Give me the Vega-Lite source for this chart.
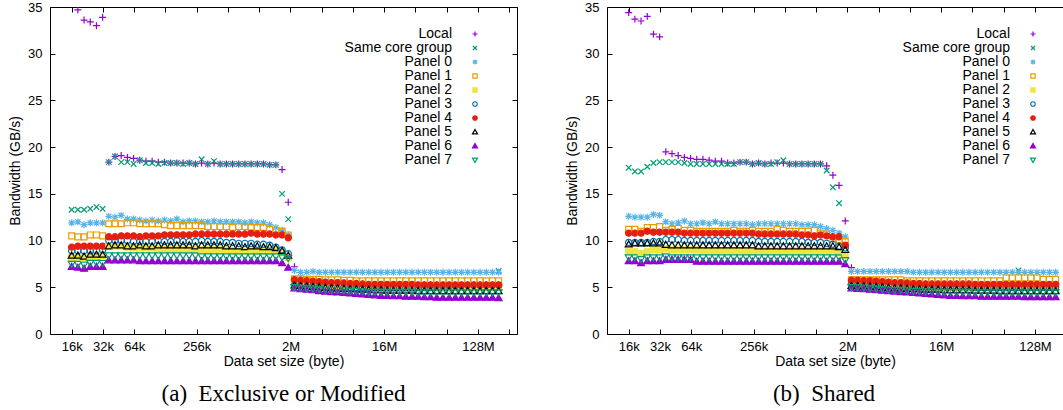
{
"$schema":"https://vega.github.io/schema/vega-lite/v6.json",
"background":"white",
"padding":{"left":8,"top":1,"right":0,"bottom":0},
"config":{
 "view":{"stroke":null},
 "font":"Liberation Sans",
 "axis":{"labelFont":"Liberation Sans","titleFont":"Liberation Sans","labelFontSize":13,"titleFontSize":14,"titleFontWeight":"normal","labelColor":"#000","titleColor":"#000","domainColor":"#000","tickColor":"#000","grid":false,"domainWidth":1,"tickWidth":1,"labelFlush":false,"labelOverlap":false},
 "legend":{"orient":"none","legendY":20,"title":null,"padding":0,"labelAlign":"right","labelOffset":-30,"labelFontSize":14,"labelFont":"Liberation Sans","labelColor":"#000","symbolSize":25,"symbolStrokeWidth":1.2,"rowPadding":-1.4},
 "title":{"font":"Liberation Serif","fontSize":23,"fontWeight":"normal","color":"#000"}
},
"data":{"values":[
{"p":"a","x":16384,"L":null,"S":13.3,"P0":11.9,"P1":10.5,"P2":8.2,"P3":8.9,"P4":9.3,"P5":8.4,"P6":7.2,"P7":7.5},
{"p":"a","x":18794,"L":34.7,"S":13.3,"P0":12.0,"P1":10.4,"P2":8.2,"P3":8.9,"P4":9.4,"P5":8.4,"P6":7.1,"P7":7.5},
{"p":"a","x":21559,"L":33.6,"S":13.3,"P0":11.7,"P1":10.4,"P2":8.1,"P3":8.9,"P4":9.4,"P5":8.3,"P6":7.0,"P7":7.4},
{"p":"a","x":24731,"L":33.4,"S":13.4,"P0":11.9,"P1":10.6,"P2":8.3,"P3":8.9,"P4":9.4,"P5":8.5,"P6":7.2,"P7":7.6},
{"p":"a","x":28368,"L":33.0,"S":13.6,"P0":11.9,"P1":10.6,"P2":8.3,"P3":8.9,"P4":9.4,"P5":8.5,"P6":7.2,"P7":7.6},
{"p":"a","x":32542,"L":33.9,"S":13.4,"P0":11.9,"P1":10.5,"P2":8.4,"P3":9.0,"P4":9.4,"P5":8.5,"P6":7.2,"P7":7.6},
{"p":"a","x":37329,"L":18.4,"S":18.4,"P0":12.6,"P1":11.8,"P2":9.4,"P3":10.0,"P4":10.4,"P5":9.4,"P6":7.9,"P7":8.4},
{"p":"a","x":42820,"L":19.0,"S":19.0,"P0":12.5,"P1":11.8,"P2":9.4,"P3":10.0,"P4":10.4,"P5":9.5,"P6":7.9,"P7":8.4},
{"p":"a","x":49119,"L":19.1,"S":18.4,"P0":12.7,"P1":11.8,"P2":9.4,"P3":10.0,"P4":10.5,"P5":9.5,"P6":7.9,"P7":8.4},
{"p":"a","x":56345,"L":18.9,"S":18.4,"P0":12.3,"P1":11.9,"P2":9.3,"P3":10.0,"P4":10.5,"P5":9.4,"P6":7.9,"P7":8.4},
{"p":"a","x":64634,"L":18.8,"S":18.2,"P0":12.3,"P1":11.9,"P2":9.2,"P3":9.9,"P4":10.5,"P5":9.4,"P6":7.9,"P7":8.4},
{"p":"a","x":74142,"L":18.6,"S":18.6,"P0":12.2,"P1":11.8,"P2":9.2,"P3":9.9,"P4":10.4,"P5":9.5,"P6":7.8,"P7":8.4},
{"p":"a","x":85049,"L":18.5,"S":18.3,"P0":12.1,"P1":11.8,"P2":9.2,"P3":9.9,"P4":10.5,"P5":9.4,"P6":7.8,"P7":8.4},
{"p":"a","x":97560,"L":18.5,"S":18.3,"P0":12.2,"P1":11.8,"P2":9.2,"P3":9.9,"P4":10.5,"P5":9.4,"P6":7.8,"P7":8.4},
{"p":"a","x":111912,"L":18.4,"S":18.2,"P0":12.1,"P1":11.8,"P2":9.1,"P3":10.0,"P4":10.5,"P5":9.5,"P6":7.8,"P7":8.4},
{"p":"a","x":128374,"L":18.4,"S":18.3,"P0":12.2,"P1":11.7,"P2":9.1,"P3":9.9,"P4":10.6,"P5":9.5,"P6":7.8,"P7":8.4},
{"p":"a","x":147259,"L":18.3,"S":18.3,"P0":12.1,"P1":11.6,"P2":9.1,"P3":9.9,"P4":10.6,"P5":9.5,"P6":7.8,"P7":8.4},
{"p":"a","x":168923,"L":18.3,"S":18.3,"P0":12.3,"P1":11.6,"P2":9.1,"P3":10.0,"P4":10.6,"P5":9.5,"P6":7.8,"P7":8.4},
{"p":"a","x":193771,"L":18.3,"S":18.2,"P0":12.0,"P1":11.6,"P2":9.0,"P3":9.9,"P4":10.6,"P5":9.5,"P6":7.8,"P7":8.4},
{"p":"a","x":222275,"L":18.3,"S":18.3,"P0":12.1,"P1":11.6,"P2":9.0,"P3":9.9,"P4":10.6,"P5":9.5,"P6":7.8,"P7":8.4},
{"p":"a","x":254976,"L":18.2,"S":18.2,"P0":12.1,"P1":11.6,"P2":9.0,"P3":9.9,"P4":10.7,"P5":9.4,"P6":7.8,"P7":8.4},
{"p":"a","x":292485,"L":18.3,"S":18.7,"P0":12.0,"P1":11.6,"P2":9.0,"P3":10.0,"P4":10.7,"P5":9.5,"P6":7.8,"P7":8.3},
{"p":"a","x":335510,"L":18.2,"S":18.2,"P0":12.0,"P1":11.5,"P2":9.0,"P3":9.9,"P4":10.7,"P5":9.5,"P6":7.8,"P7":8.3},
{"p":"a","x":384872,"L":18.3,"S":18.5,"P0":12.1,"P1":11.5,"P2":9.0,"P3":9.9,"P4":10.7,"P5":9.5,"P6":7.8,"P7":8.3},
{"p":"a","x":441484,"L":18.2,"S":18.2,"P0":12.0,"P1":11.5,"P2":9.0,"P3":9.9,"P4":10.7,"P5":9.5,"P6":7.8,"P7":8.3},
{"p":"a","x":506428,"L":18.2,"S":18.2,"P0":12.0,"P1":11.5,"P2":9.0,"P3":9.8,"P4":10.7,"P5":9.4,"P6":7.8,"P7":8.3},
{"p":"a","x":580932,"L":18.2,"S":18.2,"P0":12.0,"P1":11.4,"P2":8.9,"P3":9.8,"P4":10.7,"P5":9.4,"P6":7.8,"P7":8.3},
{"p":"a","x":666385,"L":18.2,"S":18.2,"P0":12.0,"P1":11.5,"P2":8.9,"P3":9.7,"P4":10.7,"P5":9.4,"P6":7.8,"P7":8.3},
{"p":"a","x":764424,"L":18.2,"S":18.2,"P0":11.9,"P1":11.5,"P2":8.9,"P3":9.7,"P4":10.7,"P5":9.3,"P6":7.8,"P7":8.3},
{"p":"a","x":876872,"L":18.2,"S":18.2,"P0":12.0,"P1":11.4,"P2":8.9,"P3":9.7,"P4":10.8,"P5":9.4,"P6":7.8,"P7":8.3},
{"p":"a","x":1005867,"L":18.2,"S":18.2,"P0":11.9,"P1":11.4,"P2":8.9,"P3":9.6,"P4":10.7,"P5":9.4,"P6":7.8,"P7":8.3},
{"p":"a","x":1153845,"L":18.2,"S":18.2,"P0":11.9,"P1":11.4,"P2":8.9,"P3":9.6,"P4":10.7,"P5":9.3,"P6":7.8,"P7":8.3},
{"p":"a","x":1323576,"L":18.1,"S":18.1,"P0":11.7,"P1":11.2,"P2":8.9,"P3":9.5,"P4":10.7,"P5":9.3,"P6":7.8,"P7":8.3},
{"p":"a","x":1518275,"L":18.1,"S":18.1,"P0":11.4,"P1":11.1,"P2":8.9,"P3":9.3,"P4":10.6,"P5":9.2,"P6":7.8,"P7":8.3},
{"p":"a","x":1741622,"L":17.6,"S":15.0,"P0":11.1,"P1":11.0,"P2":8.7,"P3":9.0,"P4":10.6,"P5":8.9,"P6":7.6,"P7":8.2},
{"p":"a","x":1997828,"L":14.1,"S":12.3,"P0":10.6,"P1":10.6,"P2":8.2,"P3":8.6,"P4":10.3,"P5":8.4,"P6":7.1,"P7":8.1},
{"p":"a","x":2291724,"L":7.2,"S":5.1,"P0":6.8,"P1":5.9,"P2":5.1,"P3":5.2,"P4":5.8,"P5":5.2,"P6":4.9,"P7":5.0},
{"p":"a","x":2628843,"L":5.75,"S":5.05,"P0":6.6,"P1":5.9,"P2":5.05,"P3":5.15,"P4":5.75,"P5":5.15,"P6":4.8,"P7":4.95},
{"p":"a","x":3015591,"L":5.7,"S":5.05,"P0":6.6,"P1":5.85,"P2":5.05,"P3":5.1,"P4":5.7,"P5":5.1,"P6":4.75,"P7":4.9},
{"p":"a","x":3459181,"L":5.65,"S":5.0,"P0":6.7,"P1":5.85,"P2":5.0,"P3":5.1,"P4":5.65,"P5":5.05,"P6":4.7,"P7":4.85},
{"p":"a","x":3968082,"L":5.6,"S":5.0,"P0":6.6,"P1":5.85,"P2":5.0,"P3":5.05,"P4":5.6,"P5":5.0,"P6":4.6,"P7":4.8},
{"p":"a","x":4551830,"L":5.55,"S":5.0,"P0":6.6,"P1":5.8,"P2":5.0,"P3":5.05,"P4":5.55,"P5":4.95,"P6":4.55,"P7":4.75},
{"p":"a","x":5221406,"L":5.5,"S":4.95,"P0":6.6,"P1":5.8,"P2":4.95,"P3":5.0,"P4":5.5,"P5":4.9,"P6":4.5,"P7":4.7},
{"p":"a","x":5989466,"L":5.5,"S":4.95,"P0":6.6,"P1":5.8,"P2":4.95,"P3":5.0,"P4":5.5,"P5":4.9,"P6":4.45,"P7":4.7},
{"p":"a","x":6870632,"L":5.45,"S":4.95,"P0":6.6,"P1":5.75,"P2":4.95,"P3":5.0,"P4":5.45,"P5":4.85,"P6":4.4,"P7":4.65},
{"p":"a","x":7881271,"L":5.4,"S":4.95,"P0":6.6,"P1":5.75,"P2":4.95,"P3":4.95,"P4":5.4,"P5":4.8,"P6":4.35,"P7":4.6},
{"p":"a","x":9040654,"L":5.4,"S":4.9,"P0":6.6,"P1":5.7,"P2":4.9,"P3":4.95,"P4":5.4,"P5":4.8,"P6":4.3,"P7":4.6},
{"p":"a","x":10370689,"L":5.35,"S":4.9,"P0":6.6,"P1":5.7,"P2":4.9,"P3":4.95,"P4":5.35,"P5":4.75,"P6":4.25,"P7":4.55},
{"p":"a","x":11896380,"L":5.3,"S":4.9,"P0":6.6,"P1":5.7,"P2":4.9,"P3":4.95,"P4":5.3,"P5":4.75,"P6":4.2,"P7":4.5},
{"p":"a","x":13646253,"L":5.3,"S":4.9,"P0":6.6,"P1":5.7,"P2":4.9,"P3":4.95,"P4":5.3,"P5":4.7,"P6":4.15,"P7":4.5},
{"p":"a","x":15653734,"L":5.3,"S":4.9,"P0":6.6,"P1":5.7,"P2":4.9,"P3":4.95,"P4":5.3,"P5":4.7,"P6":4.1,"P7":4.5},
{"p":"a","x":17956324,"L":5.3,"S":4.9,"P0":6.6,"P1":5.7,"P2":4.9,"P3":4.95,"P4":5.3,"P5":4.65,"P6":4.1,"P7":4.5},
{"p":"a","x":20597820,"L":5.3,"S":4.9,"P0":6.6,"P1":5.7,"P2":4.9,"P3":4.95,"P4":5.3,"P5":4.65,"P6":4.05,"P7":4.5},
{"p":"a","x":23628071,"L":5.3,"S":4.9,"P0":6.6,"P1":5.7,"P2":4.9,"P3":4.95,"P4":5.3,"P5":4.65,"P6":4.05,"P7":4.5},
{"p":"a","x":27104038,"L":5.3,"S":4.9,"P0":6.6,"P1":5.7,"P2":4.9,"P3":4.95,"P4":5.3,"P5":4.65,"P6":4.0,"P7":4.5},
{"p":"a","x":31091199,"L":5.3,"S":4.9,"P0":6.6,"P1":5.7,"P2":4.9,"P3":4.95,"P4":5.3,"P5":4.65,"P6":4.0,"P7":4.5},
{"p":"a","x":35665006,"L":5.25,"S":4.9,"P0":6.6,"P1":5.7,"P2":4.9,"P3":5.0,"P4":5.25,"P5":4.6,"P6":4.0,"P7":4.45},
{"p":"a","x":40911191,"L":5.25,"S":4.9,"P0":6.6,"P1":5.7,"P2":4.9,"P3":5.0,"P4":5.25,"P5":4.6,"P6":3.95,"P7":4.45},
{"p":"a","x":46929339,"L":5.25,"S":4.9,"P0":6.6,"P1":5.7,"P2":4.9,"P3":5.0,"P4":5.25,"P5":4.6,"P6":3.95,"P7":4.45},
{"p":"a","x":53833167,"L":5.25,"S":4.9,"P0":6.6,"P1":5.7,"P2":4.9,"P3":5.05,"P4":5.25,"P5":4.6,"P6":3.9,"P7":4.45},
{"p":"a","x":61752588,"L":5.25,"S":4.9,"P0":6.6,"P1":5.7,"P2":4.9,"P3":5.1,"P4":5.25,"P5":4.6,"P6":3.9,"P7":4.45},
{"p":"a","x":70836760,"L":5.25,"S":4.9,"P0":6.6,"P1":5.7,"P2":4.9,"P3":5.1,"P4":5.25,"P5":4.6,"P6":3.9,"P7":4.45},
{"p":"a","x":81257426,"L":5.25,"S":4.95,"P0":6.6,"P1":5.7,"P2":4.95,"P3":5.15,"P4":5.25,"P5":4.6,"P6":3.9,"P7":4.45},
{"p":"a","x":93210857,"L":5.25,"S":4.95,"P0":6.6,"P1":5.7,"P2":4.95,"P3":5.15,"P4":5.25,"P5":4.6,"P6":3.9,"P7":4.45},
{"p":"a","x":106923210,"L":5.25,"S":4.95,"P0":6.6,"P1":5.7,"P2":4.95,"P3":5.2,"P4":5.25,"P5":4.6,"P6":3.9,"P7":4.45},
{"p":"a","x":122652857,"L":5.25,"S":4.95,"P0":6.6,"P1":5.7,"P2":4.95,"P3":5.2,"P4":5.25,"P5":4.6,"P6":3.9,"P7":4.45},
{"p":"a","x":140695076,"L":5.25,"S":4.95,"P0":6.6,"P1":5.7,"P2":4.95,"P3":5.2,"P4":5.25,"P5":4.6,"P6":3.9,"P7":4.45},
{"p":"a","x":161392792,"L":5.25,"S":4.95,"P0":6.6,"P1":5.7,"P2":4.95,"P3":5.2,"P4":5.25,"P5":4.6,"P6":3.9,"P7":4.45},
{"p":"a","x":185133223,"L":5.25,"S":4.95,"P0":6.6,"P1":5.7,"P2":4.95,"P3":5.2,"P4":5.25,"P5":4.6,"P6":3.9,"P7":4.45},
{"p":"a","x":212367343,"L":5.25,"S":6.75,"P0":6.6,"P1":5.7,"P2":4.95,"P3":5.2,"P4":5.25,"P5":4.6,"P6":3.85,"P7":4.45},
{"p":"b","x":16384,"L":34.4,"S":17.8,"P0":12.6,"P1":11.2,"P2":8.8,"P3":9.8,"P4":10.8,"P5":9.6,"P6":7.8,"P7":8.2},
{"p":"b","x":18794,"L":33.7,"S":17.4,"P0":12.5,"P1":11.2,"P2":8.8,"P3":9.8,"P4":10.8,"P5":9.7,"P6":7.8,"P7":8.2},
{"p":"b","x":21559,"L":33.5,"S":17.4,"P0":12.5,"P1":11.0,"P2":8.6,"P3":9.8,"P4":10.8,"P5":9.7,"P6":7.6,"P7":8.0},
{"p":"b","x":24731,"L":34.0,"S":17.9,"P0":12.5,"P1":11.4,"P2":8.8,"P3":9.8,"P4":11.0,"P5":9.7,"P6":7.8,"P7":8.2},
{"p":"b","x":28368,"L":32.1,"S":18.3,"P0":12.8,"P1":11.4,"P2":9.0,"P3":9.9,"P4":10.9,"P5":9.7,"P6":7.8,"P7":8.2},
{"p":"b","x":32542,"L":31.8,"S":18.4,"P0":12.7,"P1":11.5,"P2":9.0,"P3":9.9,"P4":10.9,"P5":9.7,"P6":7.8,"P7":8.2},
{"p":"b","x":37329,"L":19.5,"S":18.4,"P0":12.0,"P1":11.1,"P2":9.1,"P3":10.1,"P4":10.9,"P5":9.55,"P6":7.95,"P7":8.3},
{"p":"b","x":42820,"L":19.3,"S":18.4,"P0":11.8,"P1":11.2,"P2":9.0,"P3":10.1,"P4":10.9,"P5":9.5,"P6":7.95,"P7":8.2},
{"p":"b","x":49119,"L":19.1,"S":18.4,"P0":11.9,"P1":11.3,"P2":9.0,"P3":10.1,"P4":10.9,"P5":9.5,"P6":7.95,"P7":8.2},
{"p":"b","x":56345,"L":18.9,"S":18.3,"P0":12.1,"P1":11.1,"P2":9.0,"P3":10.0,"P4":10.8,"P5":9.5,"P6":7.95,"P7":8.2},
{"p":"b","x":64634,"L":18.8,"S":18.2,"P0":11.8,"P1":11.1,"P2":9.0,"P3":10.0,"P4":10.8,"P5":9.5,"P6":7.95,"P7":8.2},
{"p":"b","x":74142,"L":18.7,"S":18.2,"P0":11.8,"P1":11.0,"P2":9.0,"P3":10.0,"P4":10.8,"P5":9.5,"P6":7.75,"P7":8.2},
{"p":"b","x":85049,"L":18.7,"S":18.2,"P0":11.9,"P1":11.0,"P2":8.9,"P3":10.0,"P4":10.8,"P5":9.5,"P6":7.75,"P7":8.2},
{"p":"b","x":97560,"L":18.6,"S":18.2,"P0":11.8,"P1":11.0,"P2":8.9,"P3":10.0,"P4":10.8,"P5":9.5,"P6":7.75,"P7":8.2},
{"p":"b","x":111912,"L":18.5,"S":18.2,"P0":12.0,"P1":11.0,"P2":8.9,"P3":10.0,"P4":10.8,"P5":9.5,"P6":7.75,"P7":8.2},
{"p":"b","x":128374,"L":18.5,"S":18.2,"P0":11.8,"P1":11.0,"P2":8.9,"P3":10.0,"P4":10.8,"P5":9.5,"P6":7.75,"P7":8.2},
{"p":"b","x":147259,"L":18.3,"S":18.2,"P0":11.8,"P1":11.0,"P2":8.9,"P3":10.0,"P4":10.8,"P5":9.5,"P6":7.75,"P7":8.2},
{"p":"b","x":168923,"L":18.3,"S":18.2,"P0":11.8,"P1":11.1,"P2":8.9,"P3":10.0,"P4":10.8,"P5":9.5,"P6":7.75,"P7":8.2},
{"p":"b","x":193771,"L":18.4,"S":18.4,"P0":11.8,"P1":11.0,"P2":8.9,"P3":10.0,"P4":10.8,"P5":9.5,"P6":7.75,"P7":8.2},
{"p":"b","x":222275,"L":18.4,"S":18.4,"P0":11.8,"P1":11.0,"P2":8.8,"P3":10.0,"P4":10.8,"P5":9.5,"P6":7.75,"P7":8.2},
{"p":"b","x":254976,"L":18.2,"S":18.2,"P0":11.7,"P1":11.1,"P2":8.9,"P3":10.0,"P4":10.8,"P5":9.5,"P6":7.75,"P7":8.2},
{"p":"b","x":292485,"L":18.3,"S":18.3,"P0":11.8,"P1":11.0,"P2":8.9,"P3":9.9,"P4":10.7,"P5":9.4,"P6":7.75,"P7":8.2},
{"p":"b","x":335510,"L":18.2,"S":18.2,"P0":11.8,"P1":11.0,"P2":8.9,"P3":9.9,"P4":10.7,"P5":9.4,"P6":7.75,"P7":8.2},
{"p":"b","x":384872,"L":18.3,"S":18.2,"P0":11.8,"P1":11.0,"P2":8.9,"P3":9.9,"P4":10.7,"P5":9.4,"P6":7.75,"P7":8.2},
{"p":"b","x":441484,"L":18.3,"S":18.4,"P0":11.8,"P1":11.2,"P2":8.9,"P3":9.9,"P4":10.7,"P5":9.4,"P6":7.75,"P7":8.2},
{"p":"b","x":506428,"L":18.3,"S":18.6,"P0":11.8,"P1":11.1,"P2":8.8,"P3":9.9,"P4":10.7,"P5":9.4,"P6":7.75,"P7":8.2},
{"p":"b","x":580932,"L":18.2,"S":18.2,"P0":11.8,"P1":11.0,"P2":8.9,"P3":9.9,"P4":10.7,"P5":9.4,"P6":7.75,"P7":8.2},
{"p":"b","x":666385,"L":18.2,"S":18.2,"P0":11.8,"P1":11.0,"P2":8.9,"P3":9.9,"P4":10.7,"P5":9.4,"P6":7.75,"P7":8.2},
{"p":"b","x":764424,"L":18.2,"S":18.2,"P0":11.7,"P1":11.0,"P2":8.9,"P3":9.9,"P4":10.6,"P5":9.4,"P6":7.75,"P7":8.2},
{"p":"b","x":876872,"L":18.2,"S":18.2,"P0":11.7,"P1":11.0,"P2":8.9,"P3":9.8,"P4":10.6,"P5":9.4,"P6":7.75,"P7":8.2},
{"p":"b","x":1005867,"L":18.2,"S":18.2,"P0":11.7,"P1":11.1,"P2":8.9,"P3":9.8,"P4":10.5,"P5":9.4,"P6":7.75,"P7":8.2},
{"p":"b","x":1153845,"L":18.2,"S":18.2,"P0":11.5,"P1":10.8,"P2":8.9,"P3":9.8,"P4":10.6,"P5":9.4,"P6":7.75,"P7":8.2},
{"p":"b","x":1323576,"L":18.0,"S":17.5,"P0":11.3,"P1":10.7,"P2":8.9,"P3":9.7,"P4":10.5,"P5":9.4,"P6":7.75,"P7":8.2},
{"p":"b","x":1518275,"L":17.0,"S":15.7,"P0":11.1,"P1":10.2,"P2":8.9,"P3":9.6,"P4":10.4,"P5":9.4,"P6":7.75,"P7":8.2},
{"p":"b","x":1741622,"L":15.9,"S":14.0,"P0":10.8,"P1":10.1,"P2":8.7,"P3":9.4,"P4":10.4,"P5":9.3,"P6":7.75,"P7":8.2},
{"p":"b","x":1997828,"L":12.1,"S":9.5,"P0":10.4,"P1":9.9,"P2":8.4,"P3":9.2,"P4":9.5,"P5":9.0,"P6":7.5,"P7":7.9},
{"p":"b","x":2291724,"L":7.1,"S":5.1,"P0":6.7,"P1":5.8,"P2":5.1,"P3":5.3,"P4":5.75,"P5":5.15,"P6":4.9,"P7":5.0},
{"p":"b","x":2628843,"L":5.75,"S":5.1,"P0":6.7,"P1":5.8,"P2":5.1,"P3":5.3,"P4":5.75,"P5":5.15,"P6":4.85,"P7":5.0},
{"p":"b","x":3015591,"L":5.7,"S":5.05,"P0":6.7,"P1":5.8,"P2":5.05,"P3":5.25,"P4":5.7,"P5":5.1,"P6":4.8,"P7":4.95},
{"p":"b","x":3459181,"L":5.7,"S":5.05,"P0":6.7,"P1":5.8,"P2":5.05,"P3":5.25,"P4":5.7,"P5":5.1,"P6":4.75,"P7":4.9},
{"p":"b","x":3968082,"L":5.65,"S":5.0,"P0":6.7,"P1":5.8,"P2":5.0,"P3":5.2,"P4":5.65,"P5":5.05,"P6":4.7,"P7":4.85},
{"p":"b","x":4551830,"L":5.6,"S":5.0,"P0":6.7,"P1":5.8,"P2":5.0,"P3":5.2,"P4":5.6,"P5":5.0,"P6":4.65,"P7":4.8},
{"p":"b","x":5221406,"L":5.55,"S":5.0,"P0":6.7,"P1":5.8,"P2":5.0,"P3":5.15,"P4":5.55,"P5":4.95,"P6":4.6,"P7":4.75},
{"p":"b","x":5989466,"L":5.5,"S":4.95,"P0":6.7,"P1":5.8,"P2":4.95,"P3":5.15,"P4":5.5,"P5":4.9,"P6":4.55,"P7":4.7},
{"p":"b","x":6870632,"L":5.5,"S":4.95,"P0":6.7,"P1":5.8,"P2":4.95,"P3":5.1,"P4":5.5,"P5":4.9,"P6":4.5,"P7":4.7},
{"p":"b","x":7881271,"L":5.45,"S":4.95,"P0":6.7,"P1":5.7,"P2":4.95,"P3":5.1,"P4":5.45,"P5":4.85,"P6":4.45,"P7":4.65},
{"p":"b","x":9040654,"L":5.4,"S":4.95,"P0":6.6,"P1":5.7,"P2":4.95,"P3":5.1,"P4":5.4,"P5":4.8,"P6":4.4,"P7":4.6},
{"p":"b","x":10370689,"L":5.4,"S":4.9,"P0":6.6,"P1":5.7,"P2":4.9,"P3":5.05,"P4":5.4,"P5":4.8,"P6":4.35,"P7":4.6},
{"p":"b","x":11896380,"L":5.35,"S":4.9,"P0":6.6,"P1":5.7,"P2":4.9,"P3":5.05,"P4":5.35,"P5":4.75,"P6":4.3,"P7":4.55},
{"p":"b","x":13646253,"L":5.35,"S":4.9,"P0":6.6,"P1":5.7,"P2":4.9,"P3":5.05,"P4":5.35,"P5":4.75,"P6":4.25,"P7":4.55},
{"p":"b","x":15653734,"L":5.35,"S":4.9,"P0":6.6,"P1":5.7,"P2":4.9,"P3":5.05,"P4":5.35,"P5":4.75,"P6":4.2,"P7":4.5},
{"p":"b","x":17956324,"L":5.35,"S":4.9,"P0":6.6,"P1":5.7,"P2":4.9,"P3":5.05,"P4":5.35,"P5":4.7,"P6":4.15,"P7":4.5},
{"p":"b","x":20597820,"L":5.35,"S":4.9,"P0":6.6,"P1":5.7,"P2":4.9,"P3":5.05,"P4":5.35,"P5":4.7,"P6":4.1,"P7":4.5},
{"p":"b","x":23628071,"L":5.35,"S":4.9,"P0":6.6,"P1":5.7,"P2":4.9,"P3":5.05,"P4":5.35,"P5":4.7,"P6":4.1,"P7":4.5},
{"p":"b","x":27104038,"L":5.35,"S":4.9,"P0":6.6,"P1":5.7,"P2":4.9,"P3":5.05,"P4":5.35,"P5":4.7,"P6":4.05,"P7":4.5},
{"p":"b","x":31091199,"L":5.35,"S":4.9,"P0":6.6,"P1":5.7,"P2":4.9,"P3":5.05,"P4":5.35,"P5":4.7,"P6":4.05,"P7":4.5},
{"p":"b","x":35665006,"L":5.3,"S":4.9,"P0":6.6,"P1":5.7,"P2":4.9,"P3":5.0,"P4":5.3,"P5":4.65,"P6":4.05,"P7":4.45},
{"p":"b","x":40911191,"L":5.3,"S":4.9,"P0":6.6,"P1":5.7,"P2":4.9,"P3":5.0,"P4":5.3,"P5":4.65,"P6":4.0,"P7":4.45},
{"p":"b","x":46929339,"L":5.3,"S":4.9,"P0":6.6,"P1":5.7,"P2":4.9,"P3":5.0,"P4":5.3,"P5":4.65,"P6":4.0,"P7":4.45},
{"p":"b","x":53833167,"L":5.3,"S":4.9,"P0":6.6,"P1":5.7,"P2":4.9,"P3":5.0,"P4":5.3,"P5":4.65,"P6":4.0,"P7":4.45},
{"p":"b","x":61752588,"L":5.3,"S":4.9,"P0":6.6,"P1":5.7,"P2":4.9,"P3":5.0,"P4":5.3,"P5":4.6,"P6":4.0,"P7":4.45},
{"p":"b","x":70836760,"L":5.3,"S":4.9,"P0":6.6,"P1":6.0,"P2":4.9,"P3":5.0,"P4":5.3,"P5":4.6,"P6":4.0,"P7":4.45},
{"p":"b","x":81257426,"L":5.3,"S":4.9,"P0":6.6,"P1":6.0,"P2":4.9,"P3":5.0,"P4":5.3,"P5":4.6,"P6":4.0,"P7":4.45},
{"p":"b","x":93210857,"L":5.3,"S":6.8,"P0":6.6,"P1":6.0,"P2":4.9,"P3":5.0,"P4":5.3,"P5":4.6,"P6":4.0,"P7":4.45},
{"p":"b","x":106923210,"L":5.3,"S":4.9,"P0":6.6,"P1":6.0,"P2":4.9,"P3":5.0,"P4":5.3,"P5":4.6,"P6":3.95,"P7":4.45},
{"p":"b","x":122652857,"L":5.3,"S":4.95,"P0":6.6,"P1":6.0,"P2":4.95,"P3":5.0,"P4":5.3,"P5":4.6,"P6":3.95,"P7":4.45},
{"p":"b","x":140695076,"L":5.3,"S":4.95,"P0":6.6,"P1":6.0,"P2":4.95,"P3":5.0,"P4":5.3,"P5":4.6,"P6":3.95,"P7":4.45},
{"p":"b","x":161392792,"L":5.3,"S":4.95,"P0":6.6,"P1":5.85,"P2":4.95,"P3":5.0,"P4":5.3,"P5":4.6,"P6":3.95,"P7":4.45},
{"p":"b","x":185133223,"L":5.3,"S":4.95,"P0":6.6,"P1":5.85,"P2":4.95,"P3":5.0,"P4":5.3,"P5":4.6,"P6":3.95,"P7":4.45},
{"p":"b","x":212367343,"L":5.3,"S":4.95,"P0":6.6,"P1":5.85,"P2":4.95,"P3":5.0,"P4":5.3,"P5":4.6,"P6":3.95,"P7":4.45}
]},
"transform":[{"fold":["L","S","P0","P1","P2","P3","P4","P5","P6","P7"],"as":["series","bw"]}],
"spacing":47,
"resolve":{"scale":{"stroke":"independent","fill":"independent","shape":"independent"},"legend":{"stroke":"independent","fill":"independent","shape":"independent"}},
"hconcat":[
{
 "width":467,"height":327,
 "title":{"text":"(a)\u00a0 Exclusive or Modified","orient":"bottom","anchor":"middle","offset":15},
 "transform":[{"filter":"datum.p == 'a'"}],
 "layer":[
  {"mark":{"type":"point","size":48,"strokeWidth":1.2,"opacity":1,"clip":true},
   "encoding":{
    "x":{"field":"x","type":"quantitative","scale":{"type":"log","base":2,"domain":[10128,319225000],"nice":false},
     "axis":{"orient":"bottom","title":"Data set size (byte)","values":[16384,32768,65536,131072,262144,524288,1048576,2097152,4194304,8388608,16777216,33554432,67108864,134217728,268435456],
      "labelExpr":"datum.value == 16384 ? '16k' : datum.value == 32768 ? '32k' : datum.value == 65536 ? '64k' : datum.value == 262144 ? '256k' : datum.value == 2097152 ? '2M' : datum.value == 16777216 ? '16M' : datum.value == 134217728 ? '128M' : ''",
      "tickSize":-5,"labelPadding":11,"minExtent":18,"maxExtent":18,"titlePadding":2}},
    "y":{"field":"bw","type":"quantitative","scale":{"domain":[0,35],"nice":false},
     "axis":{"orient":"left","title":"Bandwidth (GB/s)","values":[0,5,10,15,20,25,30,35],"tickSize":-5,"labelPadding":13,"minExtent":22,"maxExtent":22,"titlePadding":6}},
    "stroke":{"field":"series","type":"nominal","scale":{"domain":["L","S","P0","P1","P2","P3","P4","P5","P6","P7"],"range":["#9400d3","#009e73","#56b4e9","#e69f00","#f0e442","#0072b2","#e51e10","#000000","#9400d3","#009e73"]},
     "legend":{"legendX":418,"labelExpr":"datum.label == 'L' ? 'Local' : datum.label == 'S' ? 'Same core group' : 'Panel ' + substring(datum.label, 1)"}},
    "fill":{"field":"series","type":"nominal","scale":{"domain":["L","S","P0","P1","P2","P3","P4","P5","P6","P7"],"range":["transparent","transparent","transparent","transparent","#f0e442","transparent","#e51e10","transparent","#9400d3","transparent"]},
     "legend":{"legendX":418,"labelExpr":"datum.label == 'L' ? 'Local' : datum.label == 'S' ? 'Same core group' : 'Panel ' + substring(datum.label, 1)"}},
    "shape":{"field":"series","type":"nominal","scale":{"domain":["L","S","P0","P1","P2","P3","P4","P5","P6","P7"],"range":["M-1,0L1,0M0,-1L0,1","M-0.8,-0.8L0.8,0.8M-0.8,0.8L0.8,-0.8","M-1,0L1,0M0,-1L0,1M-0.75,-0.75L0.75,0.75M-0.75,0.75L0.75,-0.75","M-0.85,-0.85L0.85,-0.85L0.85,0.85L-0.85,0.85Z","M-0.85,-0.85L0.85,-0.85L0.85,0.85L-0.85,0.85Z","M0.9,0A0.9,0.9,0,1,1,-0.9,0A0.9,0.9,0,1,1,0.9,0Z","M0.9,0A0.9,0.9,0,1,1,-0.9,0A0.9,0.9,0,1,1,0.9,0Z","M0,-1L1,0.75L-1,0.75Z","M0,-1L1,0.75L-1,0.75Z","M0,1L1,-0.75L-1,-0.75Z"]},
     "legend":{"legendX":418,"labelExpr":"datum.label == 'L' ? 'Local' : datum.label == 'S' ? 'Same core group' : 'Panel ' + substring(datum.label, 1)"}}
   }},
  {"mark":{"type":"point","opacity":0},
   "encoding":{
    "x":{"field":"x","type":"quantitative","axis":{"orient":"top","title":null,"labels":false,"values":[16384,32768,65536,131072,262144,524288,1048576,2097152,4194304,8388608,16777216,33554432,67108864,134217728,268435456],"tickSize":-5,"minExtent":0,"maxExtent":0}},
    "y":{"field":"bw","type":"quantitative","axis":{"orient":"right","title":null,"labels":false,"values":[0,5,10,15,20,25,30,35],"tickSize":-5,"minExtent":0,"maxExtent":0}}
   }}
 ],
 "resolve":{"axis":{"x":"independent","y":"independent"}}
},
{
 "width":456,"height":327,
 "title":{"text":"(b)\u00a0 Shared","orient":"bottom","anchor":"middle","offset":15,"dx":-11},
 "transform":[{"filter":"datum.p == 'b'"}],
 "layer":[
  {"mark":{"type":"point","size":48,"strokeWidth":1.2,"opacity":1,"clip":true},
   "encoding":{
    "x":{"field":"x","type":"quantitative","scale":{"type":"log","base":2,"domain":[10128,250100000],"nice":false},
     "axis":{"orient":"bottom","title":"Data set size (byte)","values":[16384,32768,65536,131072,262144,524288,1048576,2097152,4194304,8388608,16777216,33554432,67108864,134217728],
      "labelExpr":"datum.value == 16384 ? '16k' : datum.value == 32768 ? '32k' : datum.value == 65536 ? '64k' : datum.value == 262144 ? '256k' : datum.value == 2097152 ? '2M' : datum.value == 16777216 ? '16M' : datum.value == 134217728 ? '128M' : ''",
      "tickSize":-5,"labelPadding":11,"minExtent":18,"maxExtent":18,"titlePadding":2}},
    "y":{"field":"bw","type":"quantitative","scale":{"domain":[0,35],"nice":false},
     "axis":{"orient":"left","title":"Bandwidth (GB/s)","values":[0,5,10,15,20,25,30,35],"tickSize":-5,"labelPadding":13,"minExtent":22,"maxExtent":22,"titlePadding":6}},
    "stroke":{"field":"series","type":"nominal","scale":{"domain":["L","S","P0","P1","P2","P3","P4","P5","P6","P7"],"range":["#9400d3","#009e73","#56b4e9","#e69f00","#f0e442","#0072b2","#e51e10","#000000","#9400d3","#009e73"]},
     "legend":{"legendX":419,"labelExpr":"datum.label == 'L' ? 'Local' : datum.label == 'S' ? 'Same core group' : 'Panel ' + substring(datum.label, 1)"}},
    "fill":{"field":"series","type":"nominal","scale":{"domain":["L","S","P0","P1","P2","P3","P4","P5","P6","P7"],"range":["transparent","transparent","transparent","transparent","#f0e442","transparent","#e51e10","transparent","#9400d3","transparent"]},
     "legend":{"legendX":419,"labelExpr":"datum.label == 'L' ? 'Local' : datum.label == 'S' ? 'Same core group' : 'Panel ' + substring(datum.label, 1)"}},
    "shape":{"field":"series","type":"nominal","scale":{"domain":["L","S","P0","P1","P2","P3","P4","P5","P6","P7"],"range":["M-1,0L1,0M0,-1L0,1","M-0.8,-0.8L0.8,0.8M-0.8,0.8L0.8,-0.8","M-1,0L1,0M0,-1L0,1M-0.75,-0.75L0.75,0.75M-0.75,0.75L0.75,-0.75","M-0.85,-0.85L0.85,-0.85L0.85,0.85L-0.85,0.85Z","M-0.85,-0.85L0.85,-0.85L0.85,0.85L-0.85,0.85Z","M0.9,0A0.9,0.9,0,1,1,-0.9,0A0.9,0.9,0,1,1,0.9,0Z","M0.9,0A0.9,0.9,0,1,1,-0.9,0A0.9,0.9,0,1,1,0.9,0Z","M0,-1L1,0.75L-1,0.75Z","M0,-1L1,0.75L-1,0.75Z","M0,1L1,-0.75L-1,-0.75Z"]},
     "legend":{"legendX":419,"labelExpr":"datum.label == 'L' ? 'Local' : datum.label == 'S' ? 'Same core group' : 'Panel ' + substring(datum.label, 1)"}}
   }},
  {"mark":{"type":"point","opacity":0},
   "encoding":{
    "x":{"field":"x","type":"quantitative","axis":{"orient":"top","title":null,"labels":false,"values":[16384,32768,65536,131072,262144,524288,1048576,2097152,4194304,8388608,16777216,33554432,67108864,134217728],"tickSize":-5,"minExtent":0,"maxExtent":0}},
    "y":{"field":"bw","type":"quantitative","axis":null}
   }}
 ],
 "resolve":{"axis":{"x":"independent","y":"independent"}}
}
]
}
